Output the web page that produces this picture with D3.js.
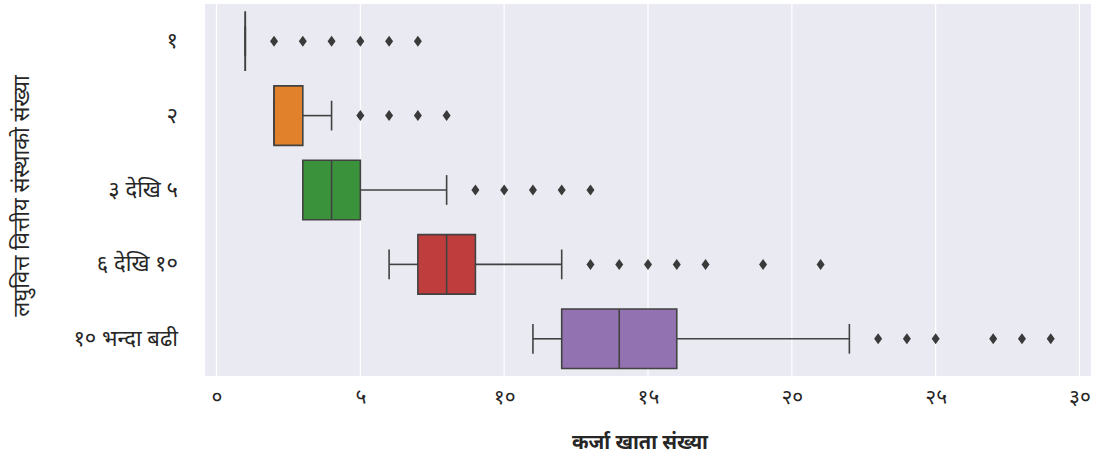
<!DOCTYPE html>
<html>
<head>
<meta charset="utf-8">
<script src="https://cdn.jsdelivr.net/npm/d3@7"></script>
<style>
  html, body { margin: 0; padding: 0; background: #ffffff; }
  svg { display: block; }
  text { font-family: "Noto Sans Devanagari", "Lohit Devanagari", "Noto Sans", sans-serif; fill: #262626; }
</style>
</head>
<body>
<svg id="chart" width="1104" height="459"></svg>
<script>
// Number of microfinance institutions (category) vs. number of loan accounts
const categories = ["१", "२", "३ देखि ५", "६ देखि १०", "१० भन्दा बढी"];
const whiskerLow  = [1, 2, 3, 6, 11];
const q1          = [1, 2, 3, 7, 12];
const median      = [1, 2, 4, 8, 14];
const q3          = [1, 3, 5, 9, 16];
const whiskerHigh = [1, 4, 8, 12, 22];
const outliers = [
  [2, 3, 4, 5, 6, 7],
  [5, 6, 7, 8],
  [9, 10, 11, 12, 13],
  [13, 14, 15, 16, 17, 19, 21],
  [23, 24, 25, 27, 28, 29]
];
const boxColors = ["#3274a1", "#e1812c", "#3a923a", "#c03d3e", "#9372b2"];
const xTickValues = [0, 5, 10, 15, 20, 25, 30];
const xTickLabels = ["०", "५", "१०", "१५", "२०", "२५", "३०"];
const xTitle = "कर्जा खाता संख्या";
const yTitle = "लघुवित्त वित्तीय संस्थाको संख्या";

const svg = d3.select("#chart");
const plot = { left: 205, right: 1091, top: 4, bottom: 376 };

const x = d3.scaleLinear().domain([-0.4, 30.4]).range([plot.left, plot.right]);
const y = d3.scaleBand().domain(categories).range([plot.top, plot.bottom]).paddingInner(0).paddingOuter(0);

const lineColor = "#424242";

// background panel
svg.append("rect")
  .attr("x", plot.left).attr("y", plot.top)
  .attr("width", plot.right - plot.left).attr("height", plot.bottom - plot.top)
  .attr("fill", "#eaeaf2");

// vertical grid lines
svg.append("g").selectAll("line").data(xTickValues).join("line")
  .attr("x1", d => x(d)).attr("x2", d => x(d))
  .attr("y1", plot.top).attr("y2", plot.bottom)
  .attr("stroke", "#ffffff").attr("stroke-width", 1.2);

// x axis tick labels
const xAxis = d3.axisBottom(x).tickValues(xTickValues)
  .tickFormat((d, i) => xTickLabels[i]).tickSize(0).tickPadding(13);
const gx = svg.append("g").attr("transform", `translate(0,${plot.bottom})`).call(xAxis);
gx.select(".domain").remove();
gx.selectAll("text").style("font-size", "21px").attr("fill", "#262626");

// y axis tick labels
const yAxis = d3.axisLeft(y).tickSize(0).tickPadding(27);
const gy = svg.append("g").attr("transform", `translate(${plot.left},0)`).call(yAxis);
gy.select(".domain").remove();
gy.selectAll("text").style("font-size", "22px").attr("fill", "#262626");

// axis titles
svg.append("text")
  .attr("x", 640).attr("y", 449)
  .attr("text-anchor", "middle")
  .style("font-size", "20px").style("font-weight", "bold")
  .text(xTitle);

svg.append("text")
  .attr("transform", `translate(29,${(plot.top + plot.bottom) / 2 + 6}) rotate(-90)`)
  .attr("text-anchor", "middle")
  .style("font-size", "22px")
  .text(yTitle);

// boxes
const bw = y.bandwidth();
const boxH = bw * 0.8;
const capH = boxH * 0.5;

const groups = svg.append("g").selectAll("g").data(categories).join("g")
  .attr("transform", c => `translate(0,${y(c) + bw / 2})`);

groups.each(function (c, i) {
  const g = d3.select(this);
  // whiskers
  g.append("line")
    .attr("x1", x(whiskerLow[i])).attr("x2", x(q1[i]))
    .attr("y1", 0).attr("y2", 0)
    .attr("stroke", lineColor).attr("stroke-width", 1.6);
  g.append("line")
    .attr("x1", x(q3[i])).attr("x2", x(whiskerHigh[i]))
    .attr("y1", 0).attr("y2", 0)
    .attr("stroke", lineColor).attr("stroke-width", 1.6);
  // caps
  [whiskerLow[i], whiskerHigh[i]].forEach(v => {
    g.append("line")
      .attr("x1", x(v)).attr("x2", x(v))
      .attr("y1", -capH / 2).attr("y2", capH / 2)
      .attr("stroke", lineColor).attr("stroke-width", 1.6);
  });
  // box (path so that a zero-width box still shows its outline)
  const x0 = x(q1[i]), x1 = x(q3[i]);
  g.append("path")
    .attr("d", `M${x0},${-boxH / 2}H${x1}V${boxH / 2}H${x0}Z`)
    .attr("fill", boxColors[i])
    .attr("stroke", lineColor).attr("stroke-width", 1.6);
  // median
  g.append("line")
    .attr("x1", x(median[i])).attr("x2", x(median[i]))
    .attr("y1", -boxH / 2).attr("y2", boxH / 2)
    .attr("stroke", lineColor).attr("stroke-width", 1.6);
  // outliers as thin diamonds
  g.selectAll("path.flier").data(outliers[i]).join("path")
    .attr("class", "flier")
    .attr("d", v => `M${x(v)},-5.5 L${x(v) + 4},0 L${x(v)},5.5 L${x(v) - 4},0Z`)
    .attr("fill", "#3a3a3a");
});
</script>
</body>
</html>
